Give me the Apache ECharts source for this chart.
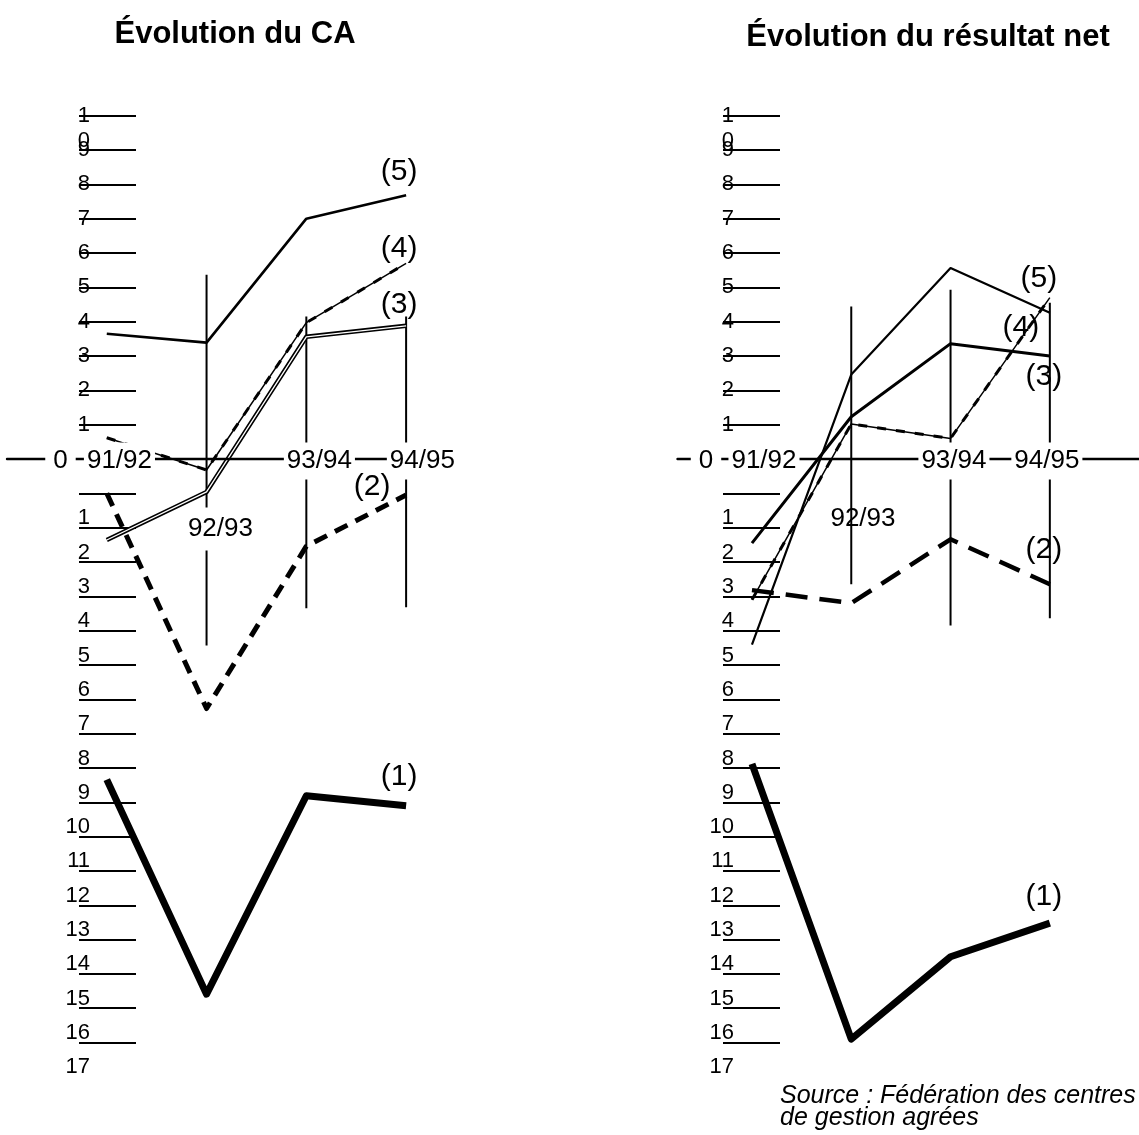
<!DOCTYPE html>
<html><head><meta charset="utf-8">
<script src="https://cdn.jsdelivr.net/npm/echarts@6/dist/echarts.min.js"></script>
<style>html,body{margin:0;padding:0;background:#fff}#c{width:1139px;height:1135px}</style>
</head><body><div id="c"></div>
<script>
// ---------- data ----------
const categories = ['91/92', '92/93', '93/94', '94/95'];
const seriesLabels = ['(1)', '(2)', '(3)', '(4)', '(5)'];

// Évolution du CA
const caS1 = [-9.34, -15.59, -9.81, -10.1];
const caS2 = [-1.0, -7.27, -2.54, -1.05];
const caS3 = [-2.36, -0.96, 3.56, 3.88];
const caS4 = [0.62, -0.32, 3.97, 5.7];
const caS5 = [3.65, 3.39, 7.0, 7.68];

// Évolution du résultat net
const rnS1 = [-8.88, -16.9, -14.5, -13.52];
const rnS2 = [-3.82, -4.2, -2.34, -3.65];
const rnS3 = [-2.45, 1.23, 3.36, 3.0];
const rnS4 = [-4.1, 1.02, 0.6, 4.7];
const rnS5 = [-5.41, 2.46, 5.56, 4.26];

// vertical marker lines at 92/93, 93/94, 94/95 (top / bottom values)
const markerCats = ['92/93', '93/94', '94/95'];
const caMarkTop = [5.37, 4.15, 4.15];
const caMarkBottom = [-5.43, -4.35, -4.32];
const rnMarkTop = [4.44, 4.93, 4.55];
const rnMarkBottom = [-3.65, -4.85, -4.64];

// y ticks and labels (label order chosen so that no end label gets dropped)
const yTickValues = [10, 9, 8, 7, 6, 5, 4, 3, 2, 1, 0, -1, -2, -3, -4, -5, -6, -7, -8, -9, -10, -11, -12, -13, -14, -15, -16, -17];
const yUpperLabelValues = [5, 10, 9, 8, 7, 6, 4, 3, 2, 1];
const yLowerLabelValues = [-18, -17, -16, -15, -14, -13, -12, -11, -9, -8, -7, -6, -5, -4, -3, -2, -10];

// x axis labels (texts and their positions along the category scale)
const xLabelTexts = ['0', '91/92', '92/93', '93/94', '94/95'];
const caXLabelPos = [-0.464, 0.127, 1.139, 2.131, 3.163];
const rnXLabelPos = [-0.463, 0.121, 1.118, 2.034, 2.97];

// ---------- chart ----------
const FONT = 'Liberation Sans, Arial, Helvetica, sans-serif';
const chart = echarts.init(document.getElementById('c'), null, {renderer: 'canvas'});

const GRID_TOP = 115.7, GRID_H = 961.2, ZERO_Y = 459;

function yLabelFormatter(v) {
  if (v === 10) return '{n| }\n{n|1}\n{n|0}';
  if (v > 0) return '{n|' + v + '}';
  return '{m|' + (-v - 1) + '}\n{m| }';
}

function xLabelFormatter(posArr, maskLow) {
  return function (v) {
    let idx = -1;
    for (let i = 0; i < posArr.length; i++) if (Math.abs(posArr[i] - v) < 0.005) idx = i;
    if (idx < 0) return '';
    const t = xLabelTexts[idx];
    if (t === '92/93') return maskLow ? '{sp| }\n{b|' + t + '}' : '{sp| }\n{c|' + t + '}';
    if (t === '0') return '{z|' + t + '}';
    return '{a|' + t + '}';
  };
}

function yAxes(gridIndex, tickOffset, labelOffset) {
  return [
    {
      type: 'value', gridIndex, min: -18, max: 10, position: 'left', offset: tickOffset,
      axisLine: {show: false, onZero: false},
      axisTick: {show: true, inside: true, length: 57, customValues: yTickValues, lineStyle: {color: '#000', width: 2.2}},
      axisLabel: {show: false},
      splitLine: {show: false}
    },
    {
      type: 'value', gridIndex, min: -18, max: 10, position: 'left', offset: labelOffset,
      axisLine: {show: false, onZero: false},
      axisTick: {show: false},
      splitLine: {show: false},
      axisLabel: {
        show: true, margin: 0, customValues: yUpperLabelValues.concat(yLowerLabelValues),
        hideOverlap: false,
        formatter: yLabelFormatter, color: '#000', fontFamily: FONT, fontSize: 22,
        rich: {
          n: {fontSize: 22, fontFamily: FONT, color: '#000', lineHeight: 25},
          m: {fontSize: 22, fontFamily: FONT, color: '#000', lineHeight: 19}
        }
      }
    }
  ];
}

function xAxis(gridIndex, min, max, posArr, spacer, maskLow) {
  return {
    type: 'value', gridIndex, min, max, z: 10,
    position: 'bottom', offset: -(GRID_TOP + GRID_H - ZERO_Y),
    axisLine: {show: true, onZero: false, lineStyle: {color: '#000', width: 2.4}},
    axisTick: {show: false},
    splitLine: {show: false},
    axisLabel: {
      show: true, customValues: posArr, margin: 2, verticalAlign: 'middle',
      showMinLabel: true, showMaxLabel: true, hideOverlap: false,
      formatter: xLabelFormatter(posArr, maskLow), color: '#000', fontFamily: FONT, fontSize: 26,
      rich: {
        a: {fontSize: 26, fontFamily: FONT, color: '#000', lineHeight: 26, backgroundColor: '#fff', padding: [5, 3, 6, 3]},
        z: {fontSize: 26, fontFamily: FONT, color: '#000', lineHeight: 26, backgroundColor: '#fff', padding: [5, 8, 6, 8]},
        b: {fontSize: 26, fontFamily: FONT, color: '#000', lineHeight: 26, backgroundColor: '#fff', padding: [8, 3, 9, 3]},
        c: {fontSize: 26, fontFamily: FONT, color: '#000', lineHeight: 26},
        sp: {fontSize: 4, lineHeight: spacer}
      }
    }
  };
}

function line(xi, yi, vals, width, type, color, label, z) {
  return {
    type: 'line', xAxisIndex: xi, yAxisIndex: yi,
    data: vals.map((v, i) => [i, v]),
    symbol: 'none', showSymbol: false, silent: true, animation: false, clip: false,
    lineStyle: {color: color || '#000', width, type: type || 'solid', cap: 'butt', join: 'round'},
    z: z || 2,
    endLabel: label ? {
      show: true, formatter: label.text, offset: label.offset, align: 'center', verticalAlign: 'middle',
      distance: 0, fontSize: 30, fontFamily: FONT, color: '#000'
    } : {show: false}
  };
}

function markers(xi, yi, tops, bottoms) {
  return {
    type: 'custom', xAxisIndex: xi, yAxisIndex: yi, silent: true, animation: false, clip: false,
    data: markerCats.map((c, i) => [categories.indexOf(c), tops[i], bottoms[i]]),
    encode: {x: 0, y: [1, 2]},
    renderItem: function (params, api) {
      const p1 = api.coord([api.value(0), api.value(1)]);
      const p2 = api.coord([api.value(0), api.value(2)]);
      return {type: 'line', shape: {x1: p1[0], y1: p1[1], x2: p2[0], y2: p2[1]}, style: {stroke: '#000', lineWidth: 2}};
    }
  };
}

const option = {
  backgroundColor: '#fff',
  animation: false,
  title: [
    {text: 'Évolution du CA', left: 235, top: 16, textAlign: 'center', padding: 0,
      textStyle: {fontFamily: FONT, fontSize: 31, fontWeight: 'bold', color: '#000', lineHeight: 36}},
    {text: 'Évolution du résultat net', left: 928, top: 19, textAlign: 'center', padding: 0,
      textStyle: {fontFamily: FONT, fontSize: 31, fontWeight: 'bold', color: '#000', lineHeight: 36}},
    {text: 'Source : Fédération des centres\nde gestion agrées', left: 780, top: 1085, padding: 0,
      textStyle: {fontFamily: FONT, fontSize: 25, fontStyle: 'italic', fontWeight: 'normal', color: '#000', lineHeight: 22}}
  ],
  grid: [
    {left: 7, top: GRID_TOP, width: 449, height: GRID_H, containLabel: false, outerBoundsMode: 'none'},
    {left: 677.5, top: GRID_TOP, width: 461.7, height: GRID_H, containLabel: false, outerBoundsMode: 'none'}
  ],
  xAxis: [
    xAxis(0, -1, 3.5, caXLabelPos, 136, true),
    xAxis(1, -0.75, 3.9, rnXLabelPos, 116, false)
  ],
  yAxis: yAxes(0, 7 - 79, 7 - 90).concat(yAxes(1, 677.5 - 723, 677.5 - 734)),
  series: [
    // left
    markers(0, 0, caMarkTop, caMarkBottom),
    line(0, 0, caS1, 7, 'solid', '#000', {text: seriesLabels[0], offset: [-7, -29]}),
    line(0, 0, caS2, 5, [14, 9], '#000', {text: seriesLabels[1], offset: [-34, -8]}),
    line(0, 0, caS3, 4.5, 'solid', '#000', {text: seriesLabels[2], offset: [-7, -21]}),
    line(0, 0, caS3, 1.3, 'solid', '#fff', null, 3),
    line(0, 0, caS4, 1.5, 'solid', '#000', null),
    line(0, 0, caS4, 3, [9, 10], '#000', {text: seriesLabels[3], offset: [-7, -15]}),
    line(0, 0, caS5, 2.6, 'solid', '#000', {text: seriesLabels[4], offset: [-7, -24]}),
    // right
    markers(1, 2, rnMarkTop, rnMarkBottom),
    line(1, 2, rnS1, 7, 'solid', '#000', {text: seriesLabels[0], offset: [-6, -26]}),
    line(1, 2, rnS2, 4.5, [22, 12], '#000', {text: seriesLabels[1], offset: [-6, -35]}),
    line(1, 2, rnS3, 3, 'solid', '#000', {text: seriesLabels[2], offset: [-6, 21]}),
    line(1, 2, rnS4, 1.5, 'solid', '#000', null),
    line(1, 2, rnS4, 3, [9, 10], '#000', {text: seriesLabels[3], offset: [-29, 30]}),
    line(1, 2, rnS5, 2.2, 'solid', '#000', {text: seriesLabels[4], offset: [-11, -34]})
  ]
};
chart.setOption(option);
</script>
</body></html>
